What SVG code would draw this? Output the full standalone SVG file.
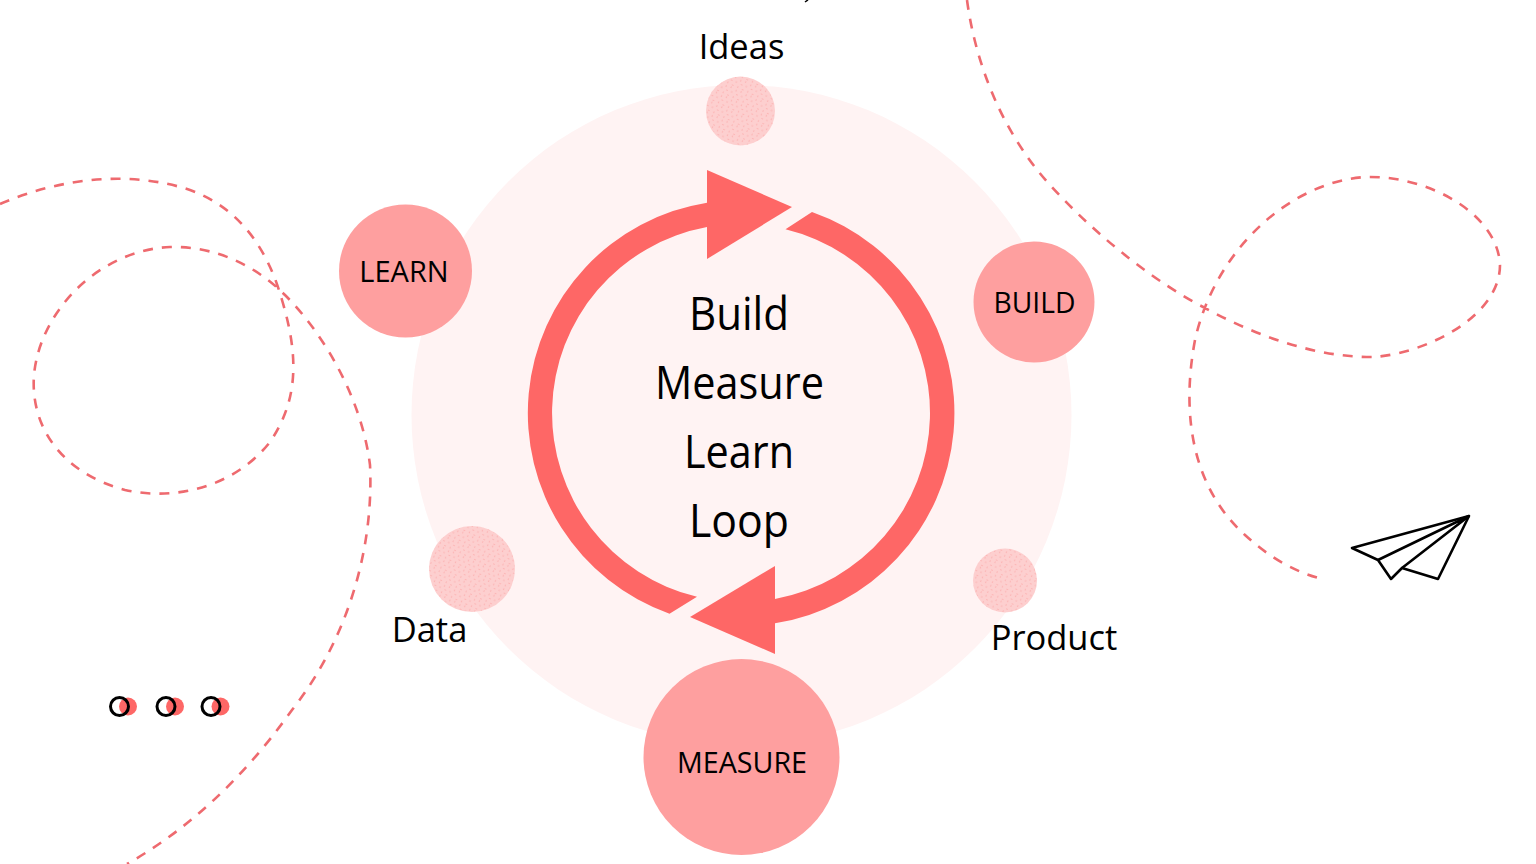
<svg xmlns="http://www.w3.org/2000/svg" width="1536" height="864" viewBox="0 0 1536 864">
<defs>
<pattern id="dots" width="11" height="11" patternUnits="userSpaceOnUse" patternTransform="rotate(25)">
<rect width="11" height="11" fill="#fdcfcf"/>
<circle cx="1.500" cy="2" r="0.6" fill="#fb9a9a"/>
<circle cx="6.500" cy="1" r="0.6" fill="#fb9a9a"/>
<circle cx="4" cy="5.500" r="0.6" fill="#fb9a9a"/>
<circle cx="9" cy="5" r="0.6" fill="#fb9a9a"/>
<circle cx="1.500" cy="9" r="0.6" fill="#fb9a9a"/>
<circle cx="7" cy="9.500" r="0.6" fill="#fb9a9a"/>
</pattern>
</defs>
<style>
text{font-family:"Open Sans","Noto Sans","Liberation Sans",sans-serif;fill:#000;text-anchor:middle}
.dash{fill:none;stroke:#ee6a6f;stroke-width:2.6;stroke-dasharray:10 9}
.big{fill:#fe9f9f}
.dot{fill:url(#dots)}
.arc{fill:#fe6766}
.lbl{font-size:34.500px}
.cap{font-size:29px}
.title{font-size:45px}
.ring{fill:none;stroke:#000;stroke-width:3}
.pk{fill:#fe6766}
</style>
<rect width="1536" height="864" fill="#fff"/>
<g id="decor">
<path class="dash" d="M0 204C60 178 130 170 190 190C240 208 268 250 282 300C300 360 297 402 270 442C237 484 180 502 125 490C65 474 30 430 34 375C40 310 100 250 170 247C215 246 255 265 285 295C325 335 362 400 370 465C374 550 347 640 292 710C242 780 187 830 127 864"/>
<path class="dash" d="M967 0C975 60 1000 130 1050 185C1100 240 1160 285 1205 308C1260 338 1320 358 1375 357C1430 352 1500 315 1500 265C1498 215 1430 175 1365 177C1290 182 1215 250 1195 340C1180 420 1195 490 1245 535C1270 558 1295 572 1322 579"/>
<path d="M805 2L808 0" fill="none" stroke="#000" stroke-width="1.5"/>
</g>
<circle id="backdrop" cx="741.5" cy="415" r="330" fill="#fff3f3"/>
<g id="connectors">
<path class="arc" d="M812 212A213 213 0 0 1 775 623.300V598.900A189 189 0 0 0 785.500 229.300Z"/>
<path class="arc" d="M669.500 613.700A213 213 0 0 1 707 202.700V227.100A189 189 0 0 0 697 596.800Z"/>
<polygon class="arc" points="707,170 792,207 707,259"/>
<polygon class="arc" points="775,566 690,617 775,654"/>
</g>
<g id="center-title">
<text class="title" x="739" y="330" textLength="100" lengthAdjust="spacingAndGlyphs">Build</text>
<text class="title" x="739.500" y="399" textLength="169" lengthAdjust="spacingAndGlyphs">Measure</text>
<text class="title" x="739" y="468" textLength="110" lengthAdjust="spacingAndGlyphs">Learn</text>
<text class="title" x="739" y="537" textLength="100" lengthAdjust="spacingAndGlyphs">Loop</text>
</g>
<g id="node-ideas"><circle class="dot" cx="740.5" cy="111" r="34.5"/><text class="lbl" x="741.500" y="59">Ideas</text></g>
<g id="node-learn"><circle class="big" cx="405.5" cy="271" r="66.5"/><text class="cap" x="404" y="282">LEARN</text></g>
<g id="node-build"><circle class="big" cx="1034" cy="302" r="60.5"/><text class="cap" x="1034.500" y="313" textLength="82" lengthAdjust="spacingAndGlyphs">BUILD</text></g>
<g id="node-measure"><circle class="big" cx="741.5" cy="757" r="98"/><text class="cap" x="742" y="772.500" textLength="130" lengthAdjust="spacingAndGlyphs">MEASURE</text></g>
<g id="node-data"><circle class="dot" cx="472" cy="569" r="43"/><text class="lbl" x="429.500" y="642">Data</text></g>
<g id="node-product"><circle class="dot" cx="1005" cy="580.500" r="32"/><text class="lbl" x="1054" y="650">Product</text></g>
<g id="plane" fill="none" stroke="#000" stroke-width="2.6" stroke-linejoin="round">
<path d="M1469 516L1352 548L1378 560L1391 579L1402 568L1438 579Z"/>
<path d="M1469 516L1378 560M1469 516L1402 568"/>
</g>
<g id="dots-trio">
<circle class="pk" cx="128" cy="706.500" r="9"/><circle class="pk" cx="175" cy="706.500" r="9"/><circle class="pk" cx="220.500" cy="706.500" r="9"/>
<circle class="ring" cx="119.500" cy="706.500" r="9"/><circle class="ring" cx="166" cy="706.500" r="9"/><circle class="ring" cx="211" cy="706.500" r="9"/>
</g>
</svg>
